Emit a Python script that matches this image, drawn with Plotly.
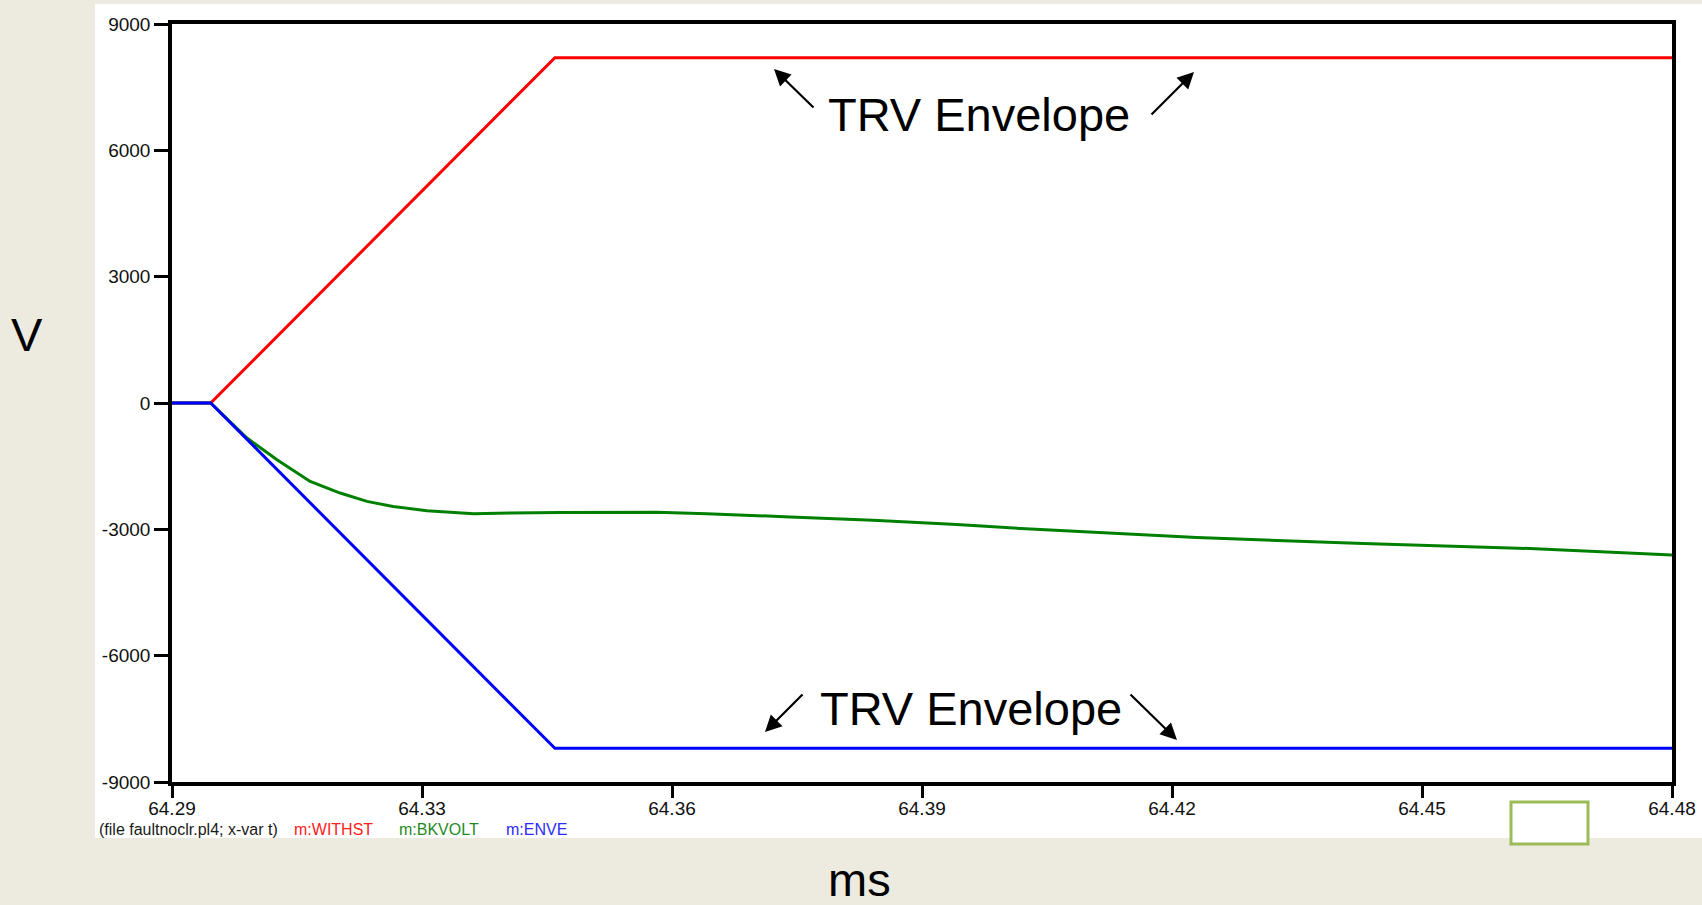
import numpy as np
import plotly.graph_objects as go

# ---- data -----------------------------------------------------------------
# time axis in ms
t_env = [64.29, 64.2949, 64.3385, 64.48]
# withstand (upper) and envelope (lower) TRV limits, V
withst = [0, 0, 8200, 8200]
enve = [0, 0, -8200, -8200]

# breaker voltage
t_bk = [64.29, 64.2949, 64.2995, 64.3033, 64.3075, 64.3113, 64.3147, 64.3180,
        64.3223, 64.3282, 64.3328, 64.3392, 64.3514, 64.3577, 64.3683, 64.3788,
        64.3894, 64.4000, 64.4198, 64.4409, 64.4620, 64.4800]
bkvolt = [0, 0, -831, -1347, -1862, -2138, -2337, -2456,
          -2558, -2629, -2613, -2599, -2597, -2627, -2705, -2786,
          -2888, -3006, -3196, -3338, -3456, -3612]

x_ticktext = ["64.29", "64.33", "64.36", "64.39", "64.42", "64.45", "64.48"]
y_tickvals = [9000, 6000, 3000, 0, -3000, -6000, -9000]
y_ticktext = ["9000", "6000", "3000", "0", "-3000", "-6000", "-9000"]

# ---- layout geometry ------------------------------------------------------
W, H = 1702, 905
ML, MR, MT, MB = 172, 30, 24, 123
PW, PH = W - ML - MR, H - MT - MB
FONT = "Liberation Sans, Arial, Helvetica, sans-serif"


def px(x):
    return (x - ML) / PW


def py(y):
    return (H - MB - y) / PH


fig = go.Figure()
fig.add_trace(go.Scatter(x=t_env, y=withst, mode="lines", name="m:WITHST",
                         line=dict(color="#ff0000", width=3)))
fig.add_trace(go.Scatter(x=t_bk, y=bkvolt, mode="lines", name="m:BKVOLT",
                         line=dict(color="#008000", width=3)))
fig.add_trace(go.Scatter(x=t_env, y=enve, mode="lines", name="m:ENVE",
                         line=dict(color="#0000ff", width=3)))

x_tickvals = list(np.linspace(64.29, 64.48, len(x_ticktext)))

fig.update_layout(
    width=W, height=H,
    margin=dict(l=ML, r=MR, t=MT, b=MB, autoexpand=False),
    paper_bgcolor="#edebe0",
    plot_bgcolor="#ffffff",
    showlegend=False,
    font=dict(family=FONT, color="#111111"),
    xaxis=dict(range=[64.29, 64.48], tickvals=x_tickvals, ticktext=x_ticktext,
               showgrid=False, zeroline=False, showline=True, mirror=True,
               automargin=False,
               linecolor="#000000", linewidth=3.5, ticks="outside",
               ticklen=12, tickwidth=3, tickcolor="#000000",
               ticklabelstandoff=-6,
               tickfont=dict(size=19, family=FONT, color="#111111")),
    yaxis=dict(range=[-9000, 9000], tickvals=y_tickvals, ticktext=y_ticktext,
               showgrid=False, zeroline=False, showline=True, mirror=True,
               automargin=False,
               linecolor="#000000", linewidth=3.5, ticks="outside",
               ticklen=14, tickwidth=3, tickcolor="#000000",
               tickfont=dict(size=19, family=FONT, color="#111111")),
)

# white chart panel and the small outlined box near the lower right
fig.add_shape(type="rect", xref="paper", yref="paper", layer="below",
              x0=px(95), x1=px(1702), y0=py(838), y1=py(4),
              line=dict(width=0), fillcolor="#ffffff")
fig.add_shape(type="rect", xref="paper", yref="paper", layer="above",
              x0=px(1511), x1=px(1588), y0=py(844), y1=py(802),
              line=dict(color="#9bbb59", width=3), fillcolor="#ffffff")

big = dict(family=FONT, size=47, color="#000000")
texts = [
    ("TRV Envelope", 979, 115),
    ("TRV Envelope", 971, 708),
    ("V", 27, 335),
    ("ms", 859, 879),
]
for txt, x, y in texts:
    fig.add_annotation(text=txt, xref="paper", yref="paper", x=px(x), y=py(y),
                       xanchor="center", yanchor="middle", showarrow=False, font=big)

# arrows: head position, tail offset in pixels
arrows = [
    (774, 69, 41, 40),
    (1194, 72, -44, 44),
    (765, 732, 39, -39),
    (1177, 740, -48, -47),
]
for hx, hy, dx, dy in arrows:
    fig.add_annotation(text="", xref="paper", yref="paper", x=px(hx), y=py(hy),
                       ax=dx, ay=dy, showarrow=True, arrowhead=2, arrowsize=1.5,
                       arrowwidth=2.2, arrowcolor="#000000")

# caption row under the x axis
captions = [
    ("(file faultnoclr.pl4; x-var t)", 97, "#1a1a1a"),
    ("m:WITHST", 292, "#ff2020"),
    ("m:BKVOLT", 397, "#1f8a1f"),
    ("m:ENVE", 504, "#2b2bff"),
]
for txt, x, col in captions:
    fig.add_annotation(text=txt, xref="paper", yref="paper", x=px(x), y=py(829),
                       xanchor="left", yanchor="middle", showarrow=False,
                       font=dict(family=FONT, size=16, color=col))

fig.write_html("out.html")
